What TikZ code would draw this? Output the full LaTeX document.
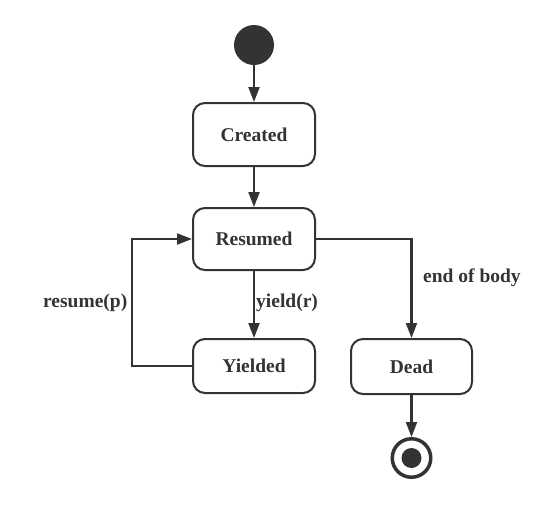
\documentclass[tikz,border=0pt]{standalone}
\usepackage{fontspec}
\setmainfont{Liberation Serif}
\usetikzlibrary{arrows.meta}
\definecolor{ink}{HTML}{333333}
\tikzset{
  state/.style={draw=ink, line width=2pt, rounded corners=12pt, minimum width=122pt,
    text=ink, font=\fontsize{19.5}{23}\selectfont\bfseries, inner sep=0pt},
  conn/.style={draw=ink, line width=2.1pt, -{Triangle[length=15pt,width=11pt]}},
  lbl/.style={text=ink, font=\fontsize{19.5}{23}\selectfont\bfseries, inner sep=0pt},
}
\begin{document}
\begin{tikzpicture}[x=1pt,y=-1pt]
\useasboundingbox (0,0) rectangle (557,504);
\node[circle, fill=ink, minimum size=40pt, inner sep=0pt] (start) at (254,45) {};
\node[state, minimum height=63pt] (created) at (254,134.5) {Created};
\node[state, minimum height=62pt] (resumed) at (254,239) {Resumed};
\node[state, minimum height=54pt] (yielded) at (254,366) {Yielded};
\node[state, minimum height=55pt, minimum width=121pt] (dead) at (411.5,366.5) {Dead};
\node[circle, draw=ink, line width=3.5pt, minimum size=38.5pt, inner sep=0pt] (end) at (411.5,458) {};
\node[circle, fill=ink, minimum size=20pt, inner sep=0pt] (enddot) at (end.center) {};
\coordinate (loop) at (132,239);

\draw[conn] (start) -- (created);
\draw[conn] (created) -- (resumed);
\draw[conn] (resumed) -- (yielded);
\draw[conn] (yielded.west) -| (loop) -- (resumed.west);
\draw[conn] (resumed.east) -| (dead.north);
\draw[conn] (dead) -- (end);

\node[lbl, anchor=west] (lyield) at (256,302.5) {yield(r)};
\node[lbl, anchor=east] (lresume) at (127.5,302.5) {resume(p)};
\node[lbl, anchor=west] (lend) at (423,278) {end of body};
\end{tikzpicture}
\end{document}
